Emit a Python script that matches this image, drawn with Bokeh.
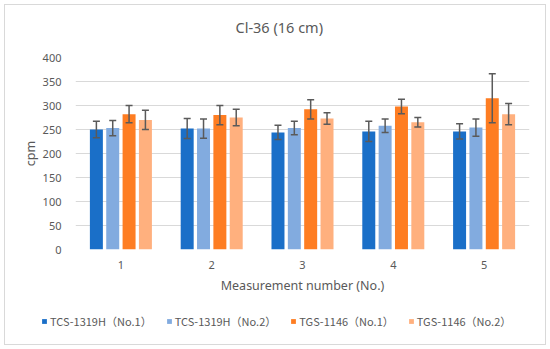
from bokeh.plotting import figure
from bokeh.layouts import column
from bokeh.models import ColumnDataSource, Whisker, Legend, LegendItem, Range1d, FixedTicker, TeeHead
from bokeh.transform import dodge
from bokeh.embed import file_html
from bokeh.resources import INLINE

# ---- data ----
measurements = [1, 2, 3, 4, 5]
tick_labels = ["1", "2", "3", "4", "5"]
series_names = ["TCS-1319H（No.1）", "TCS-1319H（No.2）", "TGS-1146（No.1）", "TGS-1146（No.2）"]
tcs1_mean = [250, 252, 244, 246, 246]
tcs1_err = [17, 21, 15, 21, 16]
tcs2_mean = [253, 252, 253, 258, 254]
tcs2_err = [16, 20, 14, 14, 18]
tgs1_mean = [282, 280, 292, 298, 315]
tgs1_err = [18, 20, 20, 15, 51]
tgs2_mean = [270, 275, 273, 265, 282]
tgs2_err = [20, 17, 12, 10, 22]
y_ticks = [0, 50, 100, 150, 200, 250, 300, 350, 400]

means = [tcs1_mean, tcs2_mean, tgs1_mean, tgs2_mean]
errs = [tcs1_err, tcs2_err, tgs1_err, tgs2_err]
colors = ["#1a6fc8", "#82abdf", "#fe7d22", "#ffb07e"]
offsets = [-0.27, -0.09, 0.09, 0.27]
TXT = "#595959"
FONT = "Noto Sans"

p = figure(width=540, height=309, output_backend="svg", toolbar_location=None,
           x_range=Range1d(0.5, 5.5), y_range=Range1d(0, 400),
           min_border_left=70, min_border_right=16, min_border_top=60, min_border_bottom=54)
p.outline_line_color = None
p.border_fill_alpha = 0
p.margin = (-11, 0, 0, 0)

p.title.text = "Cl-36 (16 cm)"
p.title.align = "left"
p.title.text_font = FONT
p.title.text_font_style = "normal"
p.title.text_font_size = "14.5px"
p.title.text_color = TXT
p.title.offset = 160
p.title.standoff = 41

# legend-only strip below the chart
lg = figure(width=540, height=41, output_backend="svg", toolbar_location=None,
            x_range=Range1d(0.5, 5.5), y_range=Range1d(1000, 1001),
            x_axis_type=None, y_axis_type=None, frame_align=False,
            min_border_left=0, min_border_right=0, min_border_top=0, min_border_bottom=0)
lg.outline_line_color = None

items = []
for name, m, e, c, off in zip(series_names, means, errs, colors, offsets):
    src = ColumnDataSource(dict(
        x=measurements, top=m,
        upper=[a + b for a, b in zip(m, e)],
        lower=[a - b for a, b in zip(m, e)]))
    p.vbar(x=dodge("x", off), top="top", bottom=0, width=0.143, source=src,
           fill_color=c, line_color=None)
    w = Whisker(base=dodge("x", off), upper="upper", lower="lower", source=src,
                level="overlay", line_color="#5a5a5a", line_width=1.5,
                upper_head=TeeHead(size=7, line_color="#5a5a5a", line_width=1.5),
                lower_head=TeeHead(size=7, line_color="#5a5a5a", line_width=1.5))
    p.add_layout(w)
    r2 = lg.vbar(x=dodge("x", off), top="top", bottom=0, width=0.143, source=src,
                 fill_color=c, line_color=None)
    items.append(LegendItem(label=name, renderers=[r2]))

p.xaxis.ticker = FixedTicker(ticks=measurements)
p.xaxis.major_label_overrides = {m: t for m, t in zip(measurements, tick_labels)}
p.yaxis.ticker = FixedTicker(ticks=y_ticks)
for ax in (p.xaxis, p.yaxis):
    ax.axis_line_color = None
    ax.major_tick_line_color = None
    ax.minor_tick_line_color = None
    ax.major_label_text_font = FONT
    ax.major_label_text_font_size = "11px"
    ax.major_label_text_color = TXT
    ax.axis_label_text_font = FONT
    ax.axis_label_text_font_style = "normal"
    ax.axis_label_text_font_size = "12.5px"
    ax.axis_label_text_color = TXT
p.xaxis.axis_label = "Measurement number (No.)"
p.yaxis.axis_label = "cpm"
p.xaxis.major_label_standoff = 5
p.yaxis.major_label_standoff = 8
p.yaxis.axis_label_standoff = 1
p.xgrid.grid_line_color = None
p.ygrid.grid_line_color = "#d9d9d9"
p.ygrid.grid_line_width = 1

legend = Legend(items=items, orientation="horizontal", location=(36, 15),
                label_text_font="Noto Sans CJK SC", label_text_font_size="11px",
                label_text_color=TXT, glyph_width=6, glyph_height=6, label_height=12,
                label_standoff=3, spacing=14, padding=0, margin=0,
                border_line_color=None, background_fill_alpha=0)
lg.add_layout(legend, "center")

layout = column(p, lg, spacing=0)
layout.styles = {"border": "1px solid #d9d9d9", "margin": "4px"}

open("out.html", "w").write(file_html(layout, INLINE))
